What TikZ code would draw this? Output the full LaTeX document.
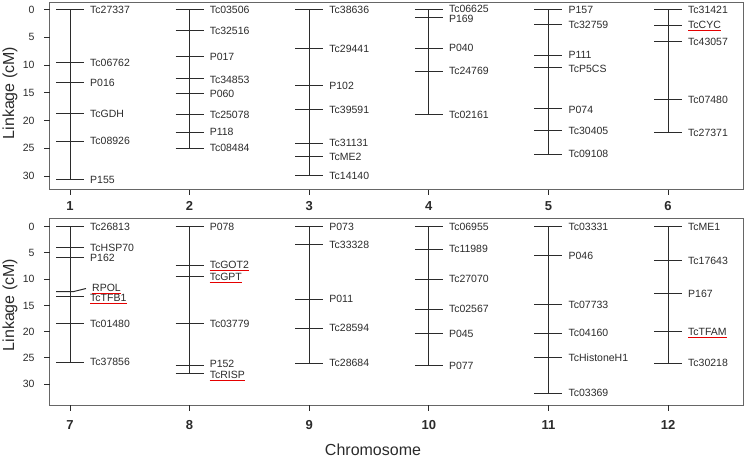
\documentclass[tikz,border=0pt]{standalone}
\usepackage{fontspec}
\setmainfont{Liberation Sans}
\usetikzlibrary{calc}

\definecolor{inkgray}{HTML}{2B2B2B}
\definecolor{framegray}{HTML}{666666}

\tikzset{
  chromline/.style={draw=inkgray, line width=1pt},
  tickline/.style={draw=inkgray, line width=1pt},
  marker/.style={anchor=west, inner sep=0pt, text=inkgray, font=\fontsize{10.5}{12}\selectfont},
  panel/.style={draw=framegray, line width=1pt},
  axisnum/.style={text=inkgray, font=\fontsize{10.5}{12}\selectfont},
  chromnum/.style={text=inkgray, font=\fontsize{13}{15}\selectfont\bfseries},
  axistitle/.style={text=inkgray, font=\fontsize{16}{18}\selectfont},
  redul/.style={draw=red!90!black, line width=1pt}
}

% marker lists: position (cM) / name / label position (cM)
\def\chrI{0/Tc27337/0, 9.6/Tc06762/9.6, 13.2/P016/13.2, 18.8/TcGDH/18.8, 23.7/Tc08926/23.7, 30.7/P155/30.7}
\def\chrII{0/Tc03506/0, 3.8/Tc32516/3.8, 8.5/P017/8.5, 12.5/Tc34853/12.6, 15.2/P060/15.2, 19.0/Tc25078/19.0, 22.1/P118/22.1, 25.0/Tc08484/25.0}
\def\chrIII{0/Tc38636/0, 7.1/Tc29441/7.1, 13.7/P102/13.7, 18.0/Tc39591/18.0, 24.1/Tc31131/24.1, 26.5/TcME2/26.5, 29.9/Tc14140/29.9}
\def\chrIV{0/Tc06625/-0.2, 1.4/P169/1.6, 7.0/P040/7.0, 11.1/Tc24769/11.1, 18.9/Tc02161/18.9}
\def\chrV{0/P157/0, 2.7/Tc32759/2.7, 8.2/P111/8.2, 10.5/TcP5CS/10.7, 17.9/P074/18.0, 21.8/Tc30405/21.8, 26.1/Tc09108/26.1}
\def\chrVI{0/Tc31421/0, 2.8/TcCYC/2.8, 5.8/Tc43057/5.8, 16.2/Tc07480/16.2, 22.2/Tc27371/22.2}
\def\chrVII{0/Tc26813/0, 4.0/TcHSP70/4.0, 5.9/P162/5.9, 13.3/TcTFB1/13.6, 18.5/Tc01480/18.5, 25.8/Tc37856/25.8}
\def\chrVIII{0/P078/0, 7.3/TcGOT2/7.3, 9.4/TcGPT/9.5, 18.5/Tc03779/18.5, 26.5/P152/26.2, 28.0/TcRISP/28.2}
\def\chrIX{0/P073/0, 3.4/Tc33328/3.4, 13.8/P011/13.8, 19.3/Tc28594/19.3, 26.0/Tc28684/26.0}
\def\chrX{0/Tc06955/0, 4.3/Tc11989/4.3, 10.0/Tc27070/10.0, 15.7/Tc02567/15.7, 20.4/P045/20.4, 26.5/P077/26.5}
\def\chrXI{0/Tc03331/0, 5.5/P046/5.5, 14.9/Tc07733/14.9, 20.3/Tc04160/20.3, 24.9/TcHistoneH1/24.9, 31.7/Tc03369/31.7}
\def\chrXII{0/TcME1/0, 6.5/Tc17643/6.5, 12.8/P167/12.8, 20.0/TcTFAM/20.0, 26.0/Tc30218/26.0}

\begin{document}
\begin{tikzpicture}[x=1pt, y=-1pt]
\useasboundingbox (0,0) rectangle (746,459);

% top panel: chromosomes 1-6
\draw[panel] (49.5,2) rectangle (743,189.5);
\foreach \v in {0,5,...,30} {
  \draw[tickline] (44,{9.5+5.55*\v}) -- (49.5,{9.5+5.55*\v});
  \node[axisnum, anchor=east] at (38,{9.5+5.55*\v}) {\v};
}
\node[axistitle, rotate=90] (ylabtop) at (10,93) {Linkage (cM)};

\foreach \n/\len/\mlist in {0/30.7/\chrI, 1/25.0/\chrII, 2/29.9/\chrIII, 3/18.9/\chrIV, 4/26.1/\chrV, 5/22.2/\chrVI}{
  \pgfmathsetmacro\cx{70+119.6*\n}
  \edef\marklist{\mlist}
  \draw[chromline] (\cx,9.5) -- (\cx,{9.5+5.55*\len});
  \foreach \cm/\lab/\lcm in \marklist {
    \draw[tickline] ({\cx-14},{9.5+5.55*\cm}) -- ({\cx+14},{9.5+5.55*\cm});
    \node[marker] (\lab) at ({\cx+20},{9.5+5.55*\lcm}) {\lab};
  }
  \draw[tickline] (\cx,189.5) -- (\cx,195);
  \pgfmathtruncatemacro\num{\n+1}
  \node[chromnum] (chr\num) at (\cx,206) {\num};
}

% bottom panel: chromosomes 7-12
\draw[panel] (49.5,218) rectangle (743,405);
\foreach \v in {0,5,...,30} {
  \draw[tickline] (44,{226.7+5.25*\v}) -- (49.5,{226.7+5.25*\v});
  \node[axisnum, anchor=east] at (38,{226.7+5.25*\v}) {\v};
}
\node[axistitle, rotate=90] (ylabbot) at (10,305) {Linkage (cM)};

\foreach \n/\len/\mlist in {0/25.8/\chrVII, 1/28.0/\chrVIII, 2/26.0/\chrIX, 3/26.5/\chrX, 4/31.7/\chrXI, 5/26.0/\chrXII}{
  \pgfmathsetmacro\cx{70+119.6*\n}
  \edef\marklist{\mlist}
  \draw[chromline] (\cx,226.7) -- (\cx,{226.7+5.25*\len});
  \foreach \cm/\lab/\lcm in \marklist {
    \draw[tickline] ({\cx-14},{226.7+5.25*\cm}) -- ({\cx+14},{226.7+5.25*\cm});
    \node[marker] (\lab) at ({\cx+20},{226.7+5.25*\lcm}) {\lab};
  }
  \draw[tickline] (\cx,405) -- (\cx,411);
  \pgfmathtruncatemacro\num{\n+7}
  \node[chromnum] (chr\num) at (\cx,425) {\num};
}

% RPOL has a bent tick
\node[marker] (RPOL) at (92,287.5) {RPOL};
\draw[tickline] (56,291.7) -- (73,291.7) -- (86,288.5);

\node[axistitle] (xlab) at (373,450) {Chromosome};

% red underlines
\foreach \g in {TcCYC,RPOL,TcTFB1,TcGOT2,TcGPT,TcRISP,TcTFAM}
  \draw[redul] ([yshift=-2.2pt]\g.base west) -- ([yshift=-2.2pt]\g.base east);
\end{tikzpicture}
\end{document}
